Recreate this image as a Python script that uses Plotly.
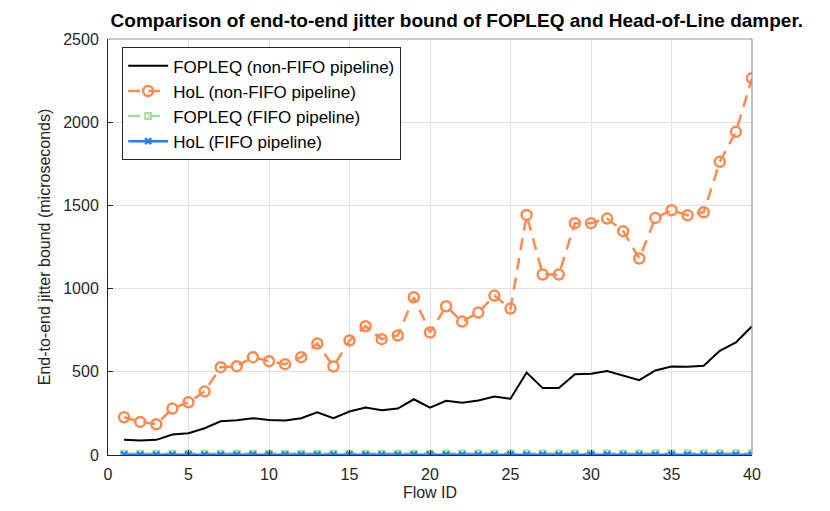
import plotly.graph_objects as go

flow_id = list(range(1, 41))

fopleq_nonfifo = [91, 87, 91, 123, 131, 161, 203, 209, 221, 211,
                  207, 221, 257, 221, 261, 285, 269, 279, 335, 284,
                  326, 314, 328, 352, 338, 496, 402, 402, 486, 488,
                  504, 476, 450, 508, 532, 530, 536, 626, 676, 774]

hol_nonfifo = [227, 199, 185, 279, 317, 382, 528, 534, 588, 564,
               546, 588, 670, 532, 688, 774, 696, 718, 948, 736,
               894, 802, 856, 958, 880, 1443, 1085, 1085, 1393, 1393,
               1421, 1345, 1181, 1425, 1471, 1441, 1459, 1762, 1942, 2264]

fopleq_fifo = [8, 8, 8, 8, 8, 8, 8, 8, 8, 8,
               8, 8, 8, 8, 8, 8, 8, 8, 8, 8,
               9, 9, 9, 9, 9, 9, 9, 9, 9, 9,
               9, 9, 9, 10, 10, 10, 10, 10, 10, 10]

hol_fifo = [2, 2, 2, 2, 2, 2, 2, 2, 2, 2,
            2, 2, 2, 2, 2, 2, 2, 2, 2, 2,
            2, 2, 2, 2, 2, 2, 2, 2, 2, 2,
            2, 2, 2, 2, 2, 2, 2, 2, 2, 2]

x_ticks = [0, 5, 10, 15, 20, 25, 30, 35, 40]
y_ticks = [0, 500, 1000, 1500, 2000, 2500]

FONT = "Liberation Sans, Arial, sans-serif"
ORANGE = "rgb(255,138,80)"
GREEN = "rgb(170,220,160)"
BLUE = "rgb(30,130,255)"

fig = go.Figure()
fig.add_trace(go.Scatter(x=flow_id, y=fopleq_nonfifo, mode="lines",
                         name="FOPLEQ (non-FIFO pipeline)",
                         line=dict(color="black", width=2)))
fig.add_trace(go.Scatter(x=flow_id, y=hol_nonfifo, mode="lines+markers",
                         name="HoL (non-FIFO pipeline)",
                         line=dict(color=ORANGE, width=2.5, dash="12px,8px"),
                         marker=dict(symbol="circle-open", size=10,
                                     line=dict(color=ORANGE, width=2.5))))
fig.add_trace(go.Scatter(x=flow_id, y=fopleq_fifo, mode="lines+markers",
                         name="FOPLEQ (FIFO pipeline)",
                         line=dict(color=GREEN, width=2.5, dash="12px,8px"),
                         marker=dict(symbol="square-open", size=6,
                                     line=dict(color=GREEN, width=2))))
fig.add_trace(go.Scatter(x=flow_id, y=hol_fifo, mode="lines+markers",
                         name="HoL (FIFO pipeline)",
                         line=dict(color=BLUE, width=2.5),
                         marker=dict(symbol="x-thin-open", size=6,
                                     line=dict(color=BLUE, width=2.5))))

# gray top/right box edges
fig.add_shape(type="line", xref="x domain", yref="y domain", x0=0, x1=1, y0=1, y1=1,
              line=dict(color="rgb(150,150,150)", width=1.2))
fig.add_shape(type="line", xref="x domain", yref="y domain", x0=1, x1=1, y0=0, y1=1,
              line=dict(color="rgb(150,150,150)", width=1.2))

fig.update_layout(
    width=822, height=503,
    margin=dict(l=100, r=78, t=31, b=56, autoexpand=False),
    paper_bgcolor="white", plot_bgcolor="white",
    font=dict(family=FONT, size=16, color="rgb(38,38,38)"),
    title=dict(text="<b>Comparison of end-to-end jitter bound of FOPLEQ and Head-of-Line damper.</b>",
               x=0.546, xanchor="center", y=0.976, yanchor="middle",
               font=dict(family=FONT, size=19, color="black")),
    showlegend=True,
    legend=dict(x=0.022, y=0.98, xanchor="left", yanchor="top",
                bgcolor="white", bordercolor="rgb(38,38,38)", borderwidth=1,
                font=dict(family=FONT, size=17, color="black"),
                tracegroupgap=0, itemwidth=40),
    xaxis=dict(range=[0, 40], tickvals=x_ticks, ticks="inside", ticklen=5,
               tickcolor="rgb(38,38,38)", showline=True, linecolor="rgb(38,38,38)",
               linewidth=1, showgrid=True, gridcolor="rgb(225,225,225)",
               zeroline=False, automargin=False, ticklabelstandoff=5,
               title=dict(text="Flow ID", standoff=4, font=dict(size=16)),
               tickfont=dict(size=16)),
    yaxis=dict(range=[0, 2500], tickvals=y_ticks, ticks="inside", ticklen=5,
               tickcolor="rgb(38,38,38)", showline=True, linecolor="rgb(38,38,38)",
               linewidth=1, showgrid=True, gridcolor="rgb(225,225,225)",
               zeroline=False, automargin=False, ticklabelstandoff=5,
               title=dict(text="End-to-end jitter bound (microseconds)", standoff=8,
                          font=dict(size=16)),
               tickfont=dict(size=16)),
)

fig.write_html("out.html")
